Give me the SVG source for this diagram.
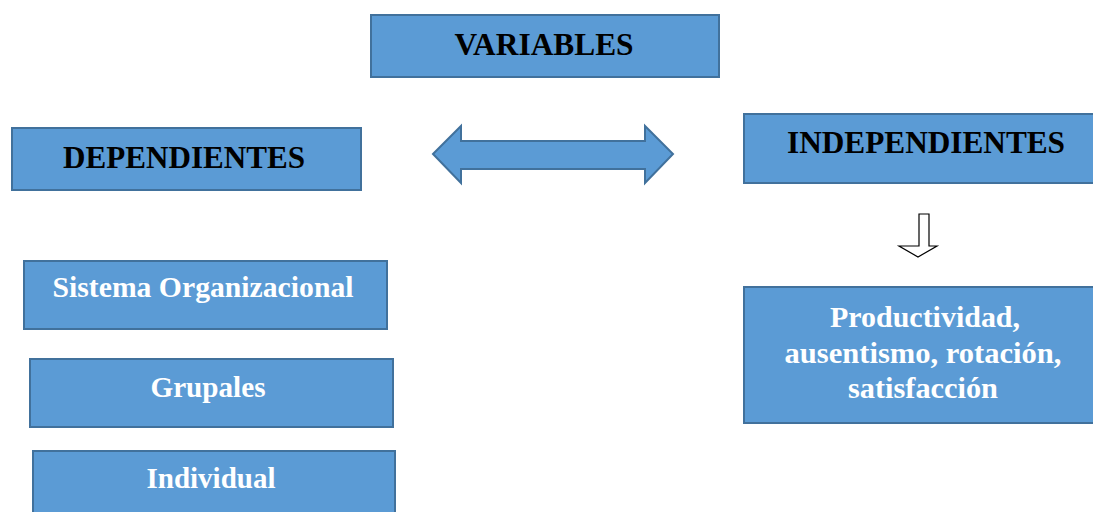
<svg xmlns="http://www.w3.org/2000/svg" width="1093" height="512" viewBox="0 0 1093 512">
<style>
.box{fill:#5B9BD5;stroke:#41719C;stroke-width:2}
.h{font-family:"Liberation Serif","Times New Roman",serif;font-weight:bold;font-size:32px;fill:#000;text-anchor:middle}
.w{font-family:"Liberation Serif","Times New Roman",serif;font-weight:bold;font-size:30px;fill:#fff;text-anchor:middle}
</style>
<rect width="1093" height="512" fill="#fff"/>
<g id="variables"><rect class="box" x="371" y="15" width="348" height="62"/><text class="h" x="544" y="55" textLength="179" lengthAdjust="spacingAndGlyphs">VARIABLES</text></g>
<g id="dependientes"><rect class="box" x="12" y="128" width="349" height="62"/><text class="h" x="184" y="168" textLength="242" lengthAdjust="spacingAndGlyphs">DEPENDIENTES</text></g>
<g id="independientes"><rect class="box" x="744" y="114" width="360" height="69"/><text class="h" x="926" y="153" textLength="278" lengthAdjust="spacingAndGlyphs">INDEPENDIENTES</text></g>
<g id="sistema"><rect class="box" x="24" y="261" width="363" height="68"/><text class="w" x="203" y="297" textLength="301" lengthAdjust="spacingAndGlyphs">Sistema Organizacional</text></g>
<g id="grupales"><rect class="box" x="30" y="359" width="363" height="68"/><text class="w" x="208" y="397" textLength="115" lengthAdjust="spacingAndGlyphs">Grupales</text></g>
<g id="individual"><rect class="box" x="33" y="451" width="362" height="70"/><text class="w" x="211" y="488" textLength="129" lengthAdjust="spacingAndGlyphs">Individual</text></g>
<g id="productividad"><rect class="box" x="744" y="287" width="360" height="136"/>
<text class="w" x="925" y="327" textLength="190" lengthAdjust="spacingAndGlyphs">Productividad,</text>
<text class="w" x="923" y="363" textLength="277" lengthAdjust="spacingAndGlyphs">ausentismo, rotación,</text>
<text class="w" x="923" y="398" textLength="150" lengthAdjust="spacingAndGlyphs">satisfacción</text></g>
<g id="connectors">
<path d="M433,154 L461,126 L461,141 L645,141 L645,126 L673,154 L645,183 L645,169 L461,169 L461,183 Z" fill="#5B9BD5" stroke="#41719C" stroke-width="2" stroke-linejoin="miter"/>
<path d="M919,214 L929,214 L929,246 L937,246 L918,257 L899,246 L919,246 Z" fill="#fff" stroke="#000" stroke-width="1.2"/>
</g>
</svg>
